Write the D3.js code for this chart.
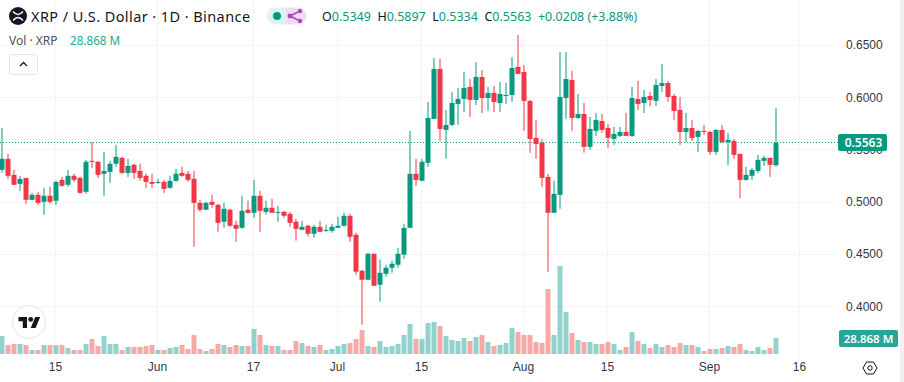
<!DOCTYPE html>
<html lang="en">

<head>
    <meta charset="UTF-8">
    <title>XRP / U.S. Dollar</title>
    <script src="https://d3js.org/d3.v7.min.js"></script>
    <style>
        html, body { margin: 0; padding: 0; background: #fff; overflow: hidden; }
        svg { display: block; font-family: "Noto Sans", sans-serif; }
        .domain { display: none; }
        .tick line { display: none; }
        .tick text { fill: #333844; font-size: 12px; }
    </style>
</head>

<body>
    <svg id="chart" width="904" height="382"></svg>

    <script>
        // daily candles, May 6 to Sep 12 2024
        const firstDay = new Date(Date.UTC(2024, 4, 6));
        const lastDay = new Date(Date.UTC(2024, 8, 12));

        const opens = [.5305,.5411,.5257,.5171,.5228,.5018,.5066,.4999,.5057,.5009,.5209,.5162,.5248,.5228,.5095,.5391,.5382,.5267,.5286,.5363,
            .5420,.5276,.5353,.5295,.5248,.5190,.5181,.5190,.5133,.5200,.5276,.5267,.5219,.4989,.4923,.4999,.4970,.4808,.4923,.4779,
            .4750,.4923,.4894,.5057,.4903,.4942,.4894,.4903,.4884,.4808,.4731,.4770,.4693,.4760,.4722,.4722,.4750,.4770,.4865,.4684,
            .4339,.4253,.4502,.4205,.4310,.4368,.4397,.4493,.4750,.5267,.5200,.5372,.5793,.6271,.5687,.5735,.5936,.5984,.6099,.5974,
            .6194,.5993,.6041,.5945,.6012,.6022,.6290,.6242,.5965,.5611,.5563,.5238,.4894,.5066,.5993,.6165,.5802,.5840,.5525,.5678,
            .5773,.5706,.5601,.5630,.5668,.5630,.5984,.5945,.6012,.5965,.6108,.6137,.6012,.5879,.5668,.5706,.5620,.5678,.5668,.5477,
            .5687,.5572,.5582,.5458,.5209,.5248,.5295,.5391,.5420,.5349];
        const highs = [.5706,.5458,.5305,.5248,.5228,.5085,.5095,.5133,.5143,.5200,.5238,.5305,.5267,.5238,.5401,.5572,.5391,.5477,.5391,.5544,
            .5430,.5411,.5363,.5363,.5267,.5267,.5219,.5209,.5248,.5315,.5334,.5295,.5295,.5018,.4999,.5066,.4980,.4989,.4932,.4817,
            .5057,.5009,.5209,.5104,.5009,.5028,.4961,.4913,.4903,.4836,.4817,.4779,.4779,.4817,.4779,.4789,.4856,.4894,.4884,.4703,
            .4349,.4512,.4502,.4445,.4397,.4435,.4559,.4789,.5678,.5411,.5411,.5955,.6376,.6366,.5879,.6051,.6089,.6242,.6175,.6338,
            .6261,.6099,.6108,.6146,.6137,.6385,.6596,.6309,.5974,.5783,.5601,.5267,.5200,.6433,.6433,.6252,.6032,.5945,.5812,.5850,
            .5840,.5745,.5716,.5716,.5850,.6099,.6156,.6070,.6051,.6175,.6318,.6156,.6032,.6003,.5850,.5783,.5687,.5735,.5678,.5697,
            .5735,.5659,.5601,.5458,.5334,.5324,.5448,.5439,.5420,.5897];
        const lows = [.5276,.5219,.5162,.5104,.4980,.5018,.4970,.4875,.4980,.4970,.5143,.5143,.5190,.5076,.5076,.5324,.5228,.5057,.5181,.5334,
            .5267,.5238,.5219,.5200,.5133,.5133,.5171,.5085,.5123,.5190,.5238,.5190,.4569,.4903,.4923,.4942,.4712,.4750,.4760,.4616,
            .4741,.4884,.4846,.4712,.4875,.4894,.4808,.4846,.4760,.4626,.4731,.4664,.4655,.4712,.4712,.4703,.4750,.4760,.4616,.4301,
            .3823,.4253,.4196,.4043,.4282,.4320,.4368,.4454,.4750,.5152,.5200,.5334,.5793,.5582,.5411,.5725,.5735,.5859,.5812,.5926,
            .5850,.5869,.5859,.5859,.5936,.5955,.6223,.5678,.5468,.5411,.5143,.4330,.4894,.4932,.5793,.5678,.5793,.5468,.5496,.5630,
            .5659,.5515,.5544,.5620,.5630,.5620,.5879,.5850,.5917,.5917,.6051,.5955,.5783,.5544,.5572,.5582,.5477,.5640,.5448,.5448,
            .5563,.5353,.5411,.5037,.5200,.5209,.5276,.5343,.5238,.5334];
        const closes = [.5411,.5248,.5162,.5219,.5018,.5066,.4989,.5057,.4999,.5190,.5152,.5248,.5209,.5085,.5382,.5382,.5257,.5295,.5363,.5430,
            .5276,.5343,.5276,.5228,.5190,.5171,.5190,.5123,.5200,.5267,.5248,.5209,.4989,.4923,.4989,.4970,.4798,.4932,.4770,.4741,
            .4913,.4894,.5057,.4913,.4942,.4894,.4903,.4865,.4798,.4741,.4760,.4693,.4760,.4712,.4731,.4760,.4770,.4865,.4664,.4330,
            .4253,.4502,.4196,.4320,.4368,.4406,.4502,.4750,.5267,.5209,.5382,.5802,.6271,.5697,.5735,.5945,.5984,.6089,.5974,.6194,
            .5993,.6041,.5955,.6032,.6022,.6280,.6223,.5965,.5601,.5553,.5228,.4894,.5076,.6003,.6175,.5802,.5840,.5525,.5697,.5783,
            .5687,.5611,.5649,.5668,.5630,.5993,.5936,.6003,.5974,.6118,.6137,.6003,.5869,.5668,.5706,.5611,.5678,.5668,.5477,.5687,
            .5572,.5592,.5448,.5209,.5257,.5305,.5401,.5420,.5353,.5563];
        // millions of XRP
        const volumes = [32.4,16.2,18,18,16.2,7.2,7.2,16.2,16.2,16.2,16.2,10.8,7.2,7.2,18,27,14.4,32.4,18,18,
            7.2,12.6,12.6,12.6,14.4,16.2,7.2,7.2,10.8,12.6,16.2,9,34.2,9,5.4,9,18,16.2,12.6,16.2,
            14.4,14.4,45,34.2,16.2,14.4,14.4,7.2,7.2,23.4,19.8,14.4,12.6,16.2,7.2,9,14.4,18,19.8,27,
            43.2,14.4,12.6,23.4,12.6,14.4,18,34.2,54,27,27,55.8,57.6,50.4,32.4,25.2,23.4,28.8,23.4,30.6,
            34.2,21.6,14.4,16.2,19.8,46.8,39.6,34.2,34.2,21.6,19.8,117,34.2,158.4,75.6,37.8,25.2,21.6,21.6,18,
            18,21.6,18,7.2,12.6,39.6,23.4,18,10.8,18,12.6,16.2,12.6,19.8,16.2,16.2,12.6,5.4,9,9,
            10.8,14.4,12.6,18,7.2,5.4,12.6,7.2,10.8,28.868];

        const priceTicks = [0.65, 0.6, 0.55, 0.5, 0.45, 0.4];
        const timeTicks = [
            { date: new Date(Date.UTC(2024, 4, 15)), label: "15" },
            { date: new Date(Date.UTC(2024, 5, 1)), label: "Jun" },
            { date: new Date(Date.UTC(2024, 5, 17)), label: "17" },
            { date: new Date(Date.UTC(2024, 6, 1)), label: "Jul" },
            { date: new Date(Date.UTC(2024, 6, 15)), label: "15" },
            { date: new Date(Date.UTC(2024, 7, 1)), label: "Aug" },
            { date: new Date(Date.UTC(2024, 7, 15)), label: "15" },
            { date: new Date(Date.UTC(2024, 8, 1)), label: "Sep" },
            { date: new Date(Date.UTC(2024, 8, 16)), label: "16" }
        ];
        const ohlcText = [["O", "0.5349"], ["H", "0.5897"], ["L", "0.5334"], ["C", "0.5563"]];

        const green = "#089981", red = "#f23645";
        const svg = d3.select("#chart");

        const x = d3.scaleUtc().domain([firstDay, lastDay]).range([2, 776]);
        const y = d3.scaleLinear().domain([0.4, 0.65]).range([306.2, 45]);
        const yVol = d3.scaleLinear().domain([0, 158.4]).range([354, 266]);

        const candles = closes.map((c, i) => ({
            date: d3.utcDay.offset(firstDay, i),
            open: opens[i], high: highs[i], low: lows[i], close: c, volume: volumes[i]
        }));
        const colorOf = d => d.close >= d.open ? green : red;

        // right edge of the page
        svg.append("rect").attr("x", 900).attr("y", 0).attr("width", 4).attr("height", 382).attr("fill", "#f0f1f3");

        // grid
        const grid = svg.append("g").attr("stroke", "#f4f5f7").attr("stroke-width", 1);
        grid.selectAll("line.v").data(timeTicks).join("line").attr("class", "v")
            .attr("x1", d => Math.round(x(d.date)) - 0.5).attr("x2", d => Math.round(x(d.date)) - 0.5)
            .attr("y1", 0).attr("y2", 358);
        grid.selectAll("line.h").data(priceTicks).join("line").attr("class", "h")
            .attr("x1", 0).attr("x2", 837)
            .attr("y1", d => Math.round(y(d)) + 0.5).attr("y2", d => Math.round(y(d)) + 0.5);

        // volume
        svg.append("g").selectAll("rect").data(candles).join("rect")
            .attr("x", d => x(d.date) - 2.5).attr("width", 5)
            .attr("y", d => yVol(d.volume)).attr("height", d => yVol(0) - yVol(d.volume))
            .attr("fill", d => d.close >= d.open ? "#26a69a" : "#ef5350").attr("fill-opacity", 0.5);

        // last price line
        svg.append("line")
            .attr("x1", 0).attr("x2", 838)
            .attr("y1", 142.5).attr("y2", 142.5)
            .attr("stroke", green).attr("stroke-width", 1).attr("stroke-dasharray", "1 2");

        // candles
        const candleG = svg.append("g").selectAll("g").data(candles).join("g");
        candleG.append("line")
            .attr("x1", d => x(d.date)).attr("x2", d => x(d.date))
            .attr("y1", d => y(d.high)).attr("y2", d => y(d.low))
            .attr("stroke", colorOf).attr("stroke-width", 1);
        candleG.append("rect")
            .attr("x", d => x(d.date) - 2.5).attr("width", 5)
            .attr("y", d => y(Math.max(d.open, d.close)))
            .attr("height", d => Math.max(1, Math.abs(y(d.open) - y(d.close))))
            .attr("fill", colorOf);

        // axes
        svg.append("g")
            .attr("transform", "translate(832,0)")
            .call(d3.axisRight(y).tickValues(priceTicks).tickSize(0).tickPadding(14).tickFormat(d3.format(".4f")));
        svg.append("g")
            .attr("transform", "translate(-1,359)")
            .call(d3.axisBottom(x).tickValues(timeTicks.map(d => d.date)).tickSize(0).tickPadding(3)
                .tickFormat((d, i) => timeTicks[i].label));

        // price and volume labels
        svg.append("rect").attr("x", 838).attr("y", 134).attr("width", 49).attr("height", 17).attr("rx", 2).attr("fill", green);
        svg.append("text").attr("x", 863.5).attr("y", 147).attr("text-anchor", "middle")
            .attr("fill", "#fff").attr("font-size", 12).attr("font-weight", 600).text("0.5563");
        svg.append("rect").attr("x", 839).attr("y", 330).attr("width", 59).attr("height", 17).attr("rx", 2).attr("fill", "#26a69a");
        svg.append("text").attr("x", 868.5).attr("y", 343).attr("text-anchor", "middle")
            .attr("fill", "#fff").attr("font-size", 11.5).attr("font-weight", 600).text("28.868 M");

        // title row
        const icon = svg.append("g").attr("transform", "translate(18,16)");
        icon.append("circle").attr("r", 9).attr("fill", "#131722");
        icon.append("path").attr("d", "M-5,-4.5 Q0,1.5 5,-4.5 M-5,4.5 Q0,-1.5 5,4.5")
            .attr("fill", "none").attr("stroke", "#fff").attr("stroke-width", 1.4);
        svg.append("text").attr("x", 31).attr("y", 22).attr("font-size", 14.5).attr("fill", "#131722")
            .attr("letter-spacing", 0.42).text("XRP / U.S. Dollar · 1D · Binance");

        svg.append("path").attr("d", "M286,7.5 H275 a8.5,8.5 0 0 0 0,17 H286 Z").attr("fill", "#dff3ef");
        svg.append("path").attr("d", "M286,7.5 H298 a8.5,8.5 0 0 1 0,17 H286 Z").attr("fill", "#f1dcf4");
        svg.append("circle").attr("cx", 277).attr("cy", 16).attr("r", 4).attr("fill", green);
        const share = svg.append("g").attr("transform", "translate(294,16)").attr("fill", "#ab47bc");
        share.append("path").attr("d", "M6,-5 L-4,0 L6,5").attr("fill", "none").attr("stroke", "#ab47bc").attr("stroke-width", 1.6);
        share.append("circle").attr("cx", -4).attr("cy", 0).attr("r", 2.4);
        share.append("circle").attr("cx", 6).attr("cy", -5).attr("r", 2.2);
        share.append("circle").attr("cx", 6).attr("cy", 5).attr("r", 2.2);

        const ohlc = svg.append("text").attr("x", 322).attr("y", 21).attr("font-size", 12.5).style("white-space", "pre");
        ohlcText.forEach(d => {
            ohlc.append("tspan").attr("fill", "#131722").text(d[0]);
            ohlc.append("tspan").attr("fill", green).text(d[1] + "  ");
        });
        ohlc.append("tspan").attr("fill", green).text("+0.0208 (+3.88%)");

        // volume row
        svg.append("text").attr("x", 9).attr("y", 45).attr("font-size", 12).attr("fill", "#50535e").text("Vol · XRP");
        svg.append("text").attr("x", 70).attr("y", 45).attr("font-size", 11.7).attr("fill", "#22ab94").text("28.868 M");

        // collapse button
        svg.append("rect").attr("x", 9.5).attr("y", 54.5).attr("width", 28).attr("height", 20).attr("rx", 3)
            .attr("fill", "#fff").attr("stroke", "#e0e3eb");
        svg.append("path").attr("d", "M20,66 L23.5,62.5 L27,66").attr("fill", "none").attr("stroke", "#131722").attr("stroke-width", 1.3);

        // logo
        svg.append("circle").attr("cx", 29).attr("cy", 322).attr("r", 16.5).attr("fill", "#fff").attr("stroke", "#e0e3eb");
        const logo = svg.append("g").attr("transform", "translate(18.5,314.5) scale(0.61)").attr("fill", "#131722");
        logo.append("path").attr("d", "M14 22H7V11H0V4h14v18zM28 22h-8l7.5-18h8L28 22z");
        logo.append("circle").attr("cx", 20).attr("cy", 8).attr("r", 4);

        // settings icon
        svg.append("path").attr("d", "M863,368 L866.5,362 H873.5 L877,368 L873.5,374 H866.5 Z")
            .attr("fill", "none").attr("stroke", "#131722").attr("stroke-width", 1);
        svg.append("circle").attr("cx", 870).attr("cy", 368).attr("r", 2.2).attr("fill", "none").attr("stroke", "#131722");
    </script>
</body>

</html>
